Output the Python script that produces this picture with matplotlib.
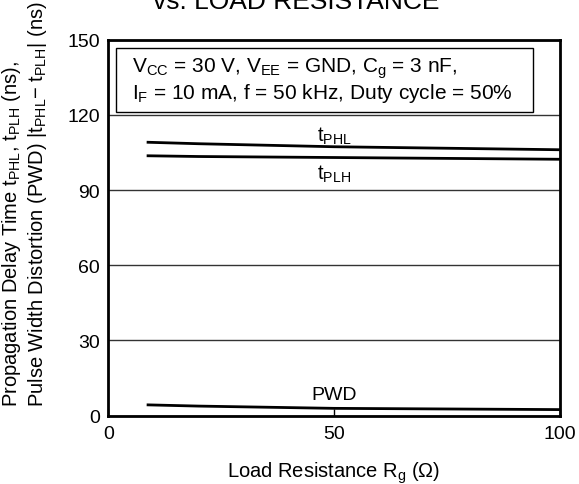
import numpy as np
import matplotlib
matplotlib.use("Agg")
import matplotlib.pyplot as plt
from matplotlib.patches import Rectangle

plt.rcParams['font.family'] = ['Liberation Sans', 'DejaVu Sans']
plt.rcParams['mathtext.fontset'] = 'custom'
plt.rcParams['mathtext.rm'] = 'Liberation Sans'
plt.rcParams['mathtext.it'] = 'Liberation Sans'

# values
rg = [8.5, 20, 50, 100]
t_phl = [109.1, 108.5, 107.3, 106.1]
t_plh = [103.7, 103.4, 103.0, 102.3]
pwd = [4.3, 3.8, 2.9, 2.4]

x_ticks = [0, 50, 100]
y_ticks = [0, 30, 60, 90, 120, 150]

fig = plt.figure(figsize=(5.79, 4.85), dpi=100)
ax = fig.add_axes([0.187, 0.141, 0.780, 0.775])

ax.plot(rg, t_phl, color='black', lw=2, solid_capstyle='butt')
ax.plot(rg, t_plh, color='black', lw=2, solid_capstyle='butt')
ax.plot(rg, pwd, color='black', lw=2, solid_capstyle='butt')

ax.set_xlim(0, 100)
ax.set_ylim(0, 150)
ax.set_xticks(x_ticks)
ax.set_yticks(y_ticks)
ax.tick_params(direction='in', length=5, width=1, labelsize=14, pad=7)
ax.yaxis.set_tick_params(length=0, pad=6)
ax.grid(True, axis='y', color='#333333', lw=1)
for s in ax.spines.values():
    s.set_linewidth(2)

ax.text(50, 112, r'$\mathregular{t_{PHL}}$', ha='center', va='center', fontsize=14.5)
ax.text(50, 96.5, r'$\mathregular{t_{PLH}}$', ha='center', va='center', fontsize=14.5)
ax.text(50, 8.4, 'PWD', ha='center', va='center', fontsize=14)

# condition box
ax.add_patch(Rectangle((1.7, 121.3), 92.3, 25.4, fc='white', ec='black', lw=1, zorder=3))
ax.text(5.3, 134.0,
        r'$\mathregular{V_{CC}}$ = 30 V, $\mathregular{V_{EE}}$ = GND, $\mathregular{C_g}$ = 3 nF,' + '\n'
        + r'$\mathregular{I_F}$ = 10 mA, f = 50 kHz, Duty cycle = 50%',
        ha='left', va='center', fontsize=15, linespacing=1.1, zorder=4)

ax.set_xlabel(r'Load Resistance $\mathregular{R_g}$ ($\Omega$)', fontsize=14.5, labelpad=12)
fig.text(0.042, 0.579,
         r'Propagation Delay Time $\mathregular{t_{PHL}}$, $\mathregular{t_{PLH}}$ (ns),' + '\n'
         + r'Pulse Width Distortion (PWD) |$\mathregular{t_{PHL}}$$-$ $\mathregular{t_{PLH}}$| (ns)',
         rotation=90, ha='center', va='center', multialignment='left',
         fontsize=14.5, linespacing=1.2)

fig.text(0.511, 0.981, 'vs. LOAD RESISTANCE', ha='center', va='baseline', fontsize=19)

fig.savefig('out.png', dpi=100)
